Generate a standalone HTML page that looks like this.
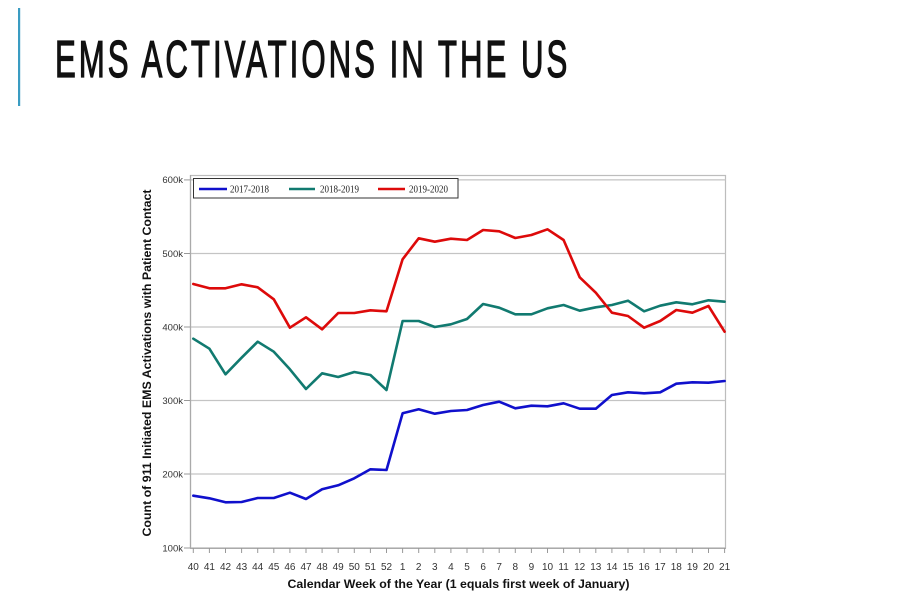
<!DOCTYPE html>
<html>
<head>
<meta charset="utf-8">
<style>
html,body{margin:0;padding:0;background:#fff;}
svg{display:block;}
</style>
</head>
<body>
<svg width="900" height="600" viewBox="0 0 900 600" xmlns="http://www.w3.org/2000/svg">
<rect x="0" y="0" width="900" height="600" fill="#fff"/>
<!-- accent bar -->
<rect x="18" y="8" width="2.2" height="98" fill="#3a9cc2"/>
<!-- title -->
<g transform="translate(55,77) scale(0.6,1)">
<text x="0" y="0" font-family="Liberation Sans, sans-serif" font-size="52" fill="#111" stroke="#111" stroke-width="1.3" letter-spacing="5">EMS ACTIVATIONS IN THE US</text>
</g>

<!-- plot frame -->
<rect x="190.5" y="175.5" width="535" height="372.5" fill="none" stroke="#bdbdbd" stroke-width="1.2"/>
<!-- gridlines -->
<g stroke="#c4c4c4" stroke-width="1.2">
<line x1="190" y1="179.9" x2="725.5" y2="179.9"/>
<line x1="190" y1="253.5" x2="725.5" y2="253.5"/>
<line x1="190" y1="327" x2="725.5" y2="327"/>
<line x1="190" y1="400.5" x2="725.5" y2="400.5"/>
<line x1="190" y1="474" x2="725.5" y2="474"/>
</g>
<!-- axis lines -->
<line x1="190.5" y1="175" x2="190.5" y2="548.5" stroke="#aaa" stroke-width="1.2"/>
<line x1="190" y1="548.3" x2="726" y2="548.3" stroke="#aaa" stroke-width="1.4"/>

<!-- y major ticks -->
<g stroke="#999" stroke-width="1">
<line x1="184" y1="179.9" x2="190" y2="179.9"/>
<line x1="184" y1="253.5" x2="190" y2="253.5"/>
<line x1="184" y1="327" x2="190" y2="327"/>
<line x1="184" y1="400.5" x2="190" y2="400.5"/>
<line x1="184" y1="474" x2="190" y2="474"/>
<line x1="184" y1="548" x2="190" y2="548"/>
</g>

<!-- y tick labels -->
<g font-family="Liberation Sans, sans-serif" font-size="9.5" fill="#333" text-anchor="end">
<text x="183" y="183">600k</text>
<text x="183" y="257">500k</text>
<text x="183" y="330.5">400k</text>
<text x="183" y="404">300k</text>
<text x="183" y="477.5">200k</text>
<text x="183" y="551.5">100k</text>
</g>

<!-- y axis title -->
<text transform="translate(151,363) rotate(-90)" text-anchor="middle" font-family="Liberation Sans, sans-serif" font-size="11.5" font-weight="bold" fill="#111" textLength="347" lengthAdjust="spacingAndGlyphs">Count of 911 Initiated EMS Activations with Patient Contact</text>

<!-- x ticks -->
<g stroke="#999" stroke-width="1">
<line x1="193.3" y1="548" x2="193.3" y2="553"/><line x1="209.4" y1="548" x2="209.4" y2="553"/><line x1="225.5" y1="548" x2="225.5" y2="553"/><line x1="241.6" y1="548" x2="241.6" y2="553"/><line x1="257.7" y1="548" x2="257.7" y2="553"/><line x1="273.8" y1="548" x2="273.8" y2="553"/><line x1="289.9" y1="548" x2="289.9" y2="553"/><line x1="306" y1="548" x2="306" y2="553"/><line x1="322.1" y1="548" x2="322.1" y2="553"/><line x1="338.2" y1="548" x2="338.2" y2="553"/><line x1="354.3" y1="548" x2="354.3" y2="553"/><line x1="370.4" y1="548" x2="370.4" y2="553"/><line x1="386.5" y1="548" x2="386.5" y2="553"/><line x1="402.6" y1="548" x2="402.6" y2="553"/><line x1="418.7" y1="548" x2="418.7" y2="553"/><line x1="434.8" y1="548" x2="434.8" y2="553"/><line x1="450.9" y1="548" x2="450.9" y2="553"/><line x1="467" y1="548" x2="467" y2="553"/><line x1="483.1" y1="548" x2="483.1" y2="553"/><line x1="499.2" y1="548" x2="499.2" y2="553"/><line x1="515.3" y1="548" x2="515.3" y2="553"/><line x1="531.4" y1="548" x2="531.4" y2="553"/><line x1="547.5" y1="548" x2="547.5" y2="553"/><line x1="563.6" y1="548" x2="563.6" y2="553"/><line x1="579.7" y1="548" x2="579.7" y2="553"/><line x1="595.8" y1="548" x2="595.8" y2="553"/><line x1="611.9" y1="548" x2="611.9" y2="553"/><line x1="628" y1="548" x2="628" y2="553"/><line x1="644.1" y1="548" x2="644.1" y2="553"/><line x1="660.2" y1="548" x2="660.2" y2="553"/><line x1="676.3" y1="548" x2="676.3" y2="553"/><line x1="692.4" y1="548" x2="692.4" y2="553"/><line x1="708.5" y1="548" x2="708.5" y2="553"/><line x1="724.6" y1="548" x2="724.6" y2="553"/>
</g>
<!-- x tick labels -->
<g font-family="Liberation Sans, sans-serif" font-size="10" fill="#333" text-anchor="middle">
<text x="193.3" y="570">40</text><text x="209.4" y="570">41</text><text x="225.5" y="570">42</text><text x="241.6" y="570">43</text><text x="257.7" y="570">44</text><text x="273.8" y="570">45</text><text x="289.9" y="570">46</text><text x="306" y="570">47</text><text x="322.1" y="570">48</text><text x="338.2" y="570">49</text><text x="354.3" y="570">50</text><text x="370.4" y="570">51</text><text x="386.5" y="570">52</text><text x="402.6" y="570">1</text><text x="418.7" y="570">2</text><text x="434.8" y="570">3</text><text x="450.9" y="570">4</text><text x="467" y="570">5</text><text x="483.1" y="570">6</text><text x="499.2" y="570">7</text><text x="515.3" y="570">8</text><text x="531.4" y="570">9</text><text x="547.5" y="570">10</text><text x="563.6" y="570">11</text><text x="579.7" y="570">12</text><text x="595.8" y="570">13</text><text x="611.9" y="570">14</text><text x="628" y="570">15</text><text x="644.1" y="570">16</text><text x="660.2" y="570">17</text><text x="676.3" y="570">18</text><text x="692.4" y="570">19</text><text x="708.5" y="570">20</text><text x="724.6" y="570">21</text>
</g>
<!-- x axis title -->
<text x="458.5" y="588" text-anchor="middle" font-family="Liberation Sans, sans-serif" font-size="12" font-weight="bold" fill="#111" textLength="342" lengthAdjust="spacingAndGlyphs">Calendar Week of the Year (1 equals first week of January)</text>

<!-- series -->
<g fill="none" stroke-width="2.6" stroke-linejoin="round" stroke-linecap="round">
<polyline stroke="#117a70" points="193.3,338.7 209.4,348.7 225.5,374.3 241.6,357.7 257.7,341.7 273.8,351.7 289.9,369.3 306,389 322.1,373.3 338.2,377 354.3,372 370.4,375 386.5,390 402.6,321 418.7,321 434.8,327 450.9,324.3 467,319 483.1,304 499.2,307.7 515.3,314.3 531.4,314.3 547.5,308.3 563.6,305 579.7,310.7 595.8,307.3 611.9,305 628,300.7 644.1,311.3 660.2,305.7 676.3,302.3 692.4,304.3 708.5,300.3 724.6,301.7"/>
<polyline stroke="#dd0a0a" points="193.3,284 209.4,288.3 225.5,288.3 241.6,284.3 257.7,287.3 273.8,299.3 289.9,327.7 306,317.3 322.1,329.3 338.2,313 354.3,313 370.4,310.3 386.5,311.3 402.6,259.3 418.7,238.3 434.8,241.7 450.9,238.7 467,240 483.1,230 499.2,231.3 515.3,238 531.4,235 547.5,229.3 563.6,240 579.7,277.3 595.8,292.7 611.9,312.7 628,316 644.1,327.7 660.2,321 676.3,310 692.4,312.7 708.5,306 724.6,331.7"/>
<polyline stroke="#1010cc" points="193.3,495.7 209.4,498.3 225.5,502.3 241.6,502 257.7,498 273.8,498 289.9,492.7 306,499 322.1,489.3 338.2,485.3 354.3,478.3 370.4,469.3 386.5,470 402.6,413.3 418.7,409.3 434.8,413.7 450.9,411 467,410 483.1,405 499.2,401.7 515.3,408.3 531.4,405.7 547.5,406.3 563.6,403.3 579.7,408.7 595.8,408.7 611.9,395 628,392.3 644.1,393.3 660.2,392.3 676.3,383.7 692.4,382.3 708.5,382.7 724.6,381"/>
</g>

<!-- legend -->
<rect x="193.5" y="178.5" width="264.5" height="19.5" fill="#fff" stroke="#333" stroke-width="1"/>
<g stroke-width="2.6">
<line x1="199" y1="189" x2="227" y2="189" stroke="#1010cc"/>
<line x1="289" y1="189" x2="315" y2="189" stroke="#117a70"/>
<line x1="378" y1="189" x2="405" y2="189" stroke="#dd0a0a"/>
</g>
<g font-family="Liberation Serif, serif" font-size="10" fill="#222">
<text x="230" y="192.5" textLength="39" lengthAdjust="spacingAndGlyphs">2017-2018</text>
<text x="320" y="192.5" textLength="39" lengthAdjust="spacingAndGlyphs">2018-2019</text>
<text x="409" y="192.5" textLength="39" lengthAdjust="spacingAndGlyphs">2019-2020</text>
</g>
</svg>
</body>
</html>
